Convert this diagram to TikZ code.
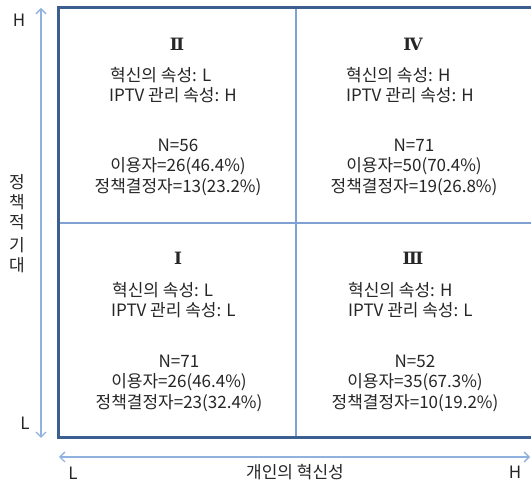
\documentclass[tikz,border=0pt]{standalone}
\usepackage{fontspec}
\setmainfont{Noto Sans CJK KR}
\newfontfamily\romfont{DejaVu Serif}
\usetikzlibrary{arrows.meta}
\definecolor{frameblue}{HTML}{3C5F91}
\definecolor{gridblue}{HTML}{7EA2D4}
\definecolor{axisblue}{HTML}{8FB2DF}
\definecolor{txt}{HTML}{262626}
\begin{document}
\begin{tikzpicture}[x=1pt,y=-1pt,
  lbl/.style={font=\fontsize{17}{20.5}\selectfont, text=txt, inner sep=0pt},
  attr/.style={lbl, anchor=west},
  stat/.style={lbl, align=center},
  num/.style={font=\romfont\bfseries\fontsize{17}{20}\selectfont, text=txt, inner sep=0pt},
  framestyle/.style={draw=frameblue, line width=3pt, line join=miter},
  gridstyle/.style={draw=gridblue, line width=1.4pt},
  axisstyle/.style={draw=axisblue, line width=1.3pt, {Straight Barb[length=5pt,width=10pt]}-{Straight Barb[length=5pt,width=10pt]}}
]
\useasboundingbox (0,0) rectangle (531,486);
\fill[white] (0,0) rectangle (531,486);
% frame
\coordinate (ftr) at (533,8);
\coordinate (ftl) at (58,8);
\coordinate (fbl) at (58,438);
\coordinate (fbr) at (533,438);
\draw[framestyle] (ftr) -- (ftl) -- (fbl) -- (fbr);
% grid
\coordinate (gvt) at (296,9.5);
\coordinate (gvb) at (296,436.5);
\coordinate (ghl) at (59.5,223);
\coordinate (ghr) at (533,223);
\draw[gridstyle] (gvt) -- (gvb);
\draw[gridstyle] (ghl) -- (ghr);
% axes
\coordinate (vtop) at (41,8);
\coordinate (vbot) at (41,438);
\draw[axisstyle] (vtop) -- (vbot);
\coordinate (hl) at (59,457);
\coordinate (hr) at (530,457);
\draw[axisstyle] (hl) -- (hr);
% axis labels
\node[lbl] (yH) at (19,20) {H};
\node[lbl] (yL) at (25,423) {L};
\node[lbl] (xL) at (73,473) {L};
\node[lbl] (xH) at (515,472) {H};
\node[lbl] (xT) at (295,472) {개인의 혁신성};
\node[lbl] (y1) at (17,182) {정};
\node[lbl] (y2) at (17,202) {책};
\node[lbl] (y3) at (17,222) {적};
\node[lbl] (y4) at (17,245) {기};
\node[lbl] (y5) at (17,265) {대};
% quadrant II
\node[num] (n2) at (177,44) {Ⅱ};
\node[attr] (a2a) at (110,75) {혁신의 속성: L};
\node[attr] (a2b) at (109,95) {IPTV 관리 속성: H};
\node[stat] (s2) at (178,167) {N=56\\이용자=26(46.4\%)\\정책결정자=13(23.2\%)};
% quadrant IV
\node[num] (n4) at (413,44) {Ⅳ};
\node[attr] (a4a) at (346,75) {혁신의 속성: H};
\node[attr] (a4b) at (346,95) {IPTV 관리 속성: H};
\node[stat] (s4) at (414,167) {N=71\\이용자=50(70.4\%)\\정책결정자=19(26.8\%)};
% quadrant I
\node[num] (n1) at (178,258) {Ⅰ};
\node[attr] (a1a) at (112,290) {혁신의 속성: L};
\node[attr] (a1b) at (111,310) {IPTV 관리 속성: L};
\node[stat] (s1) at (179,383) {N=71\\이용자=26(46.4\%)\\정책결정자=23(32.4\%)};
% quadrant III
\node[num] (n3) at (413,258) {Ⅲ};
\node[attr] (a3a) at (348,290) {혁신의 속성: H};
\node[attr] (a3b) at (348,310) {IPTV 관리 속성: L};
\node[stat] (s3) at (415,383) {N=52\\이용자=35(67.3\%)\\정책결정자=10(19.2\%)};
\end{tikzpicture}
\end{document}
